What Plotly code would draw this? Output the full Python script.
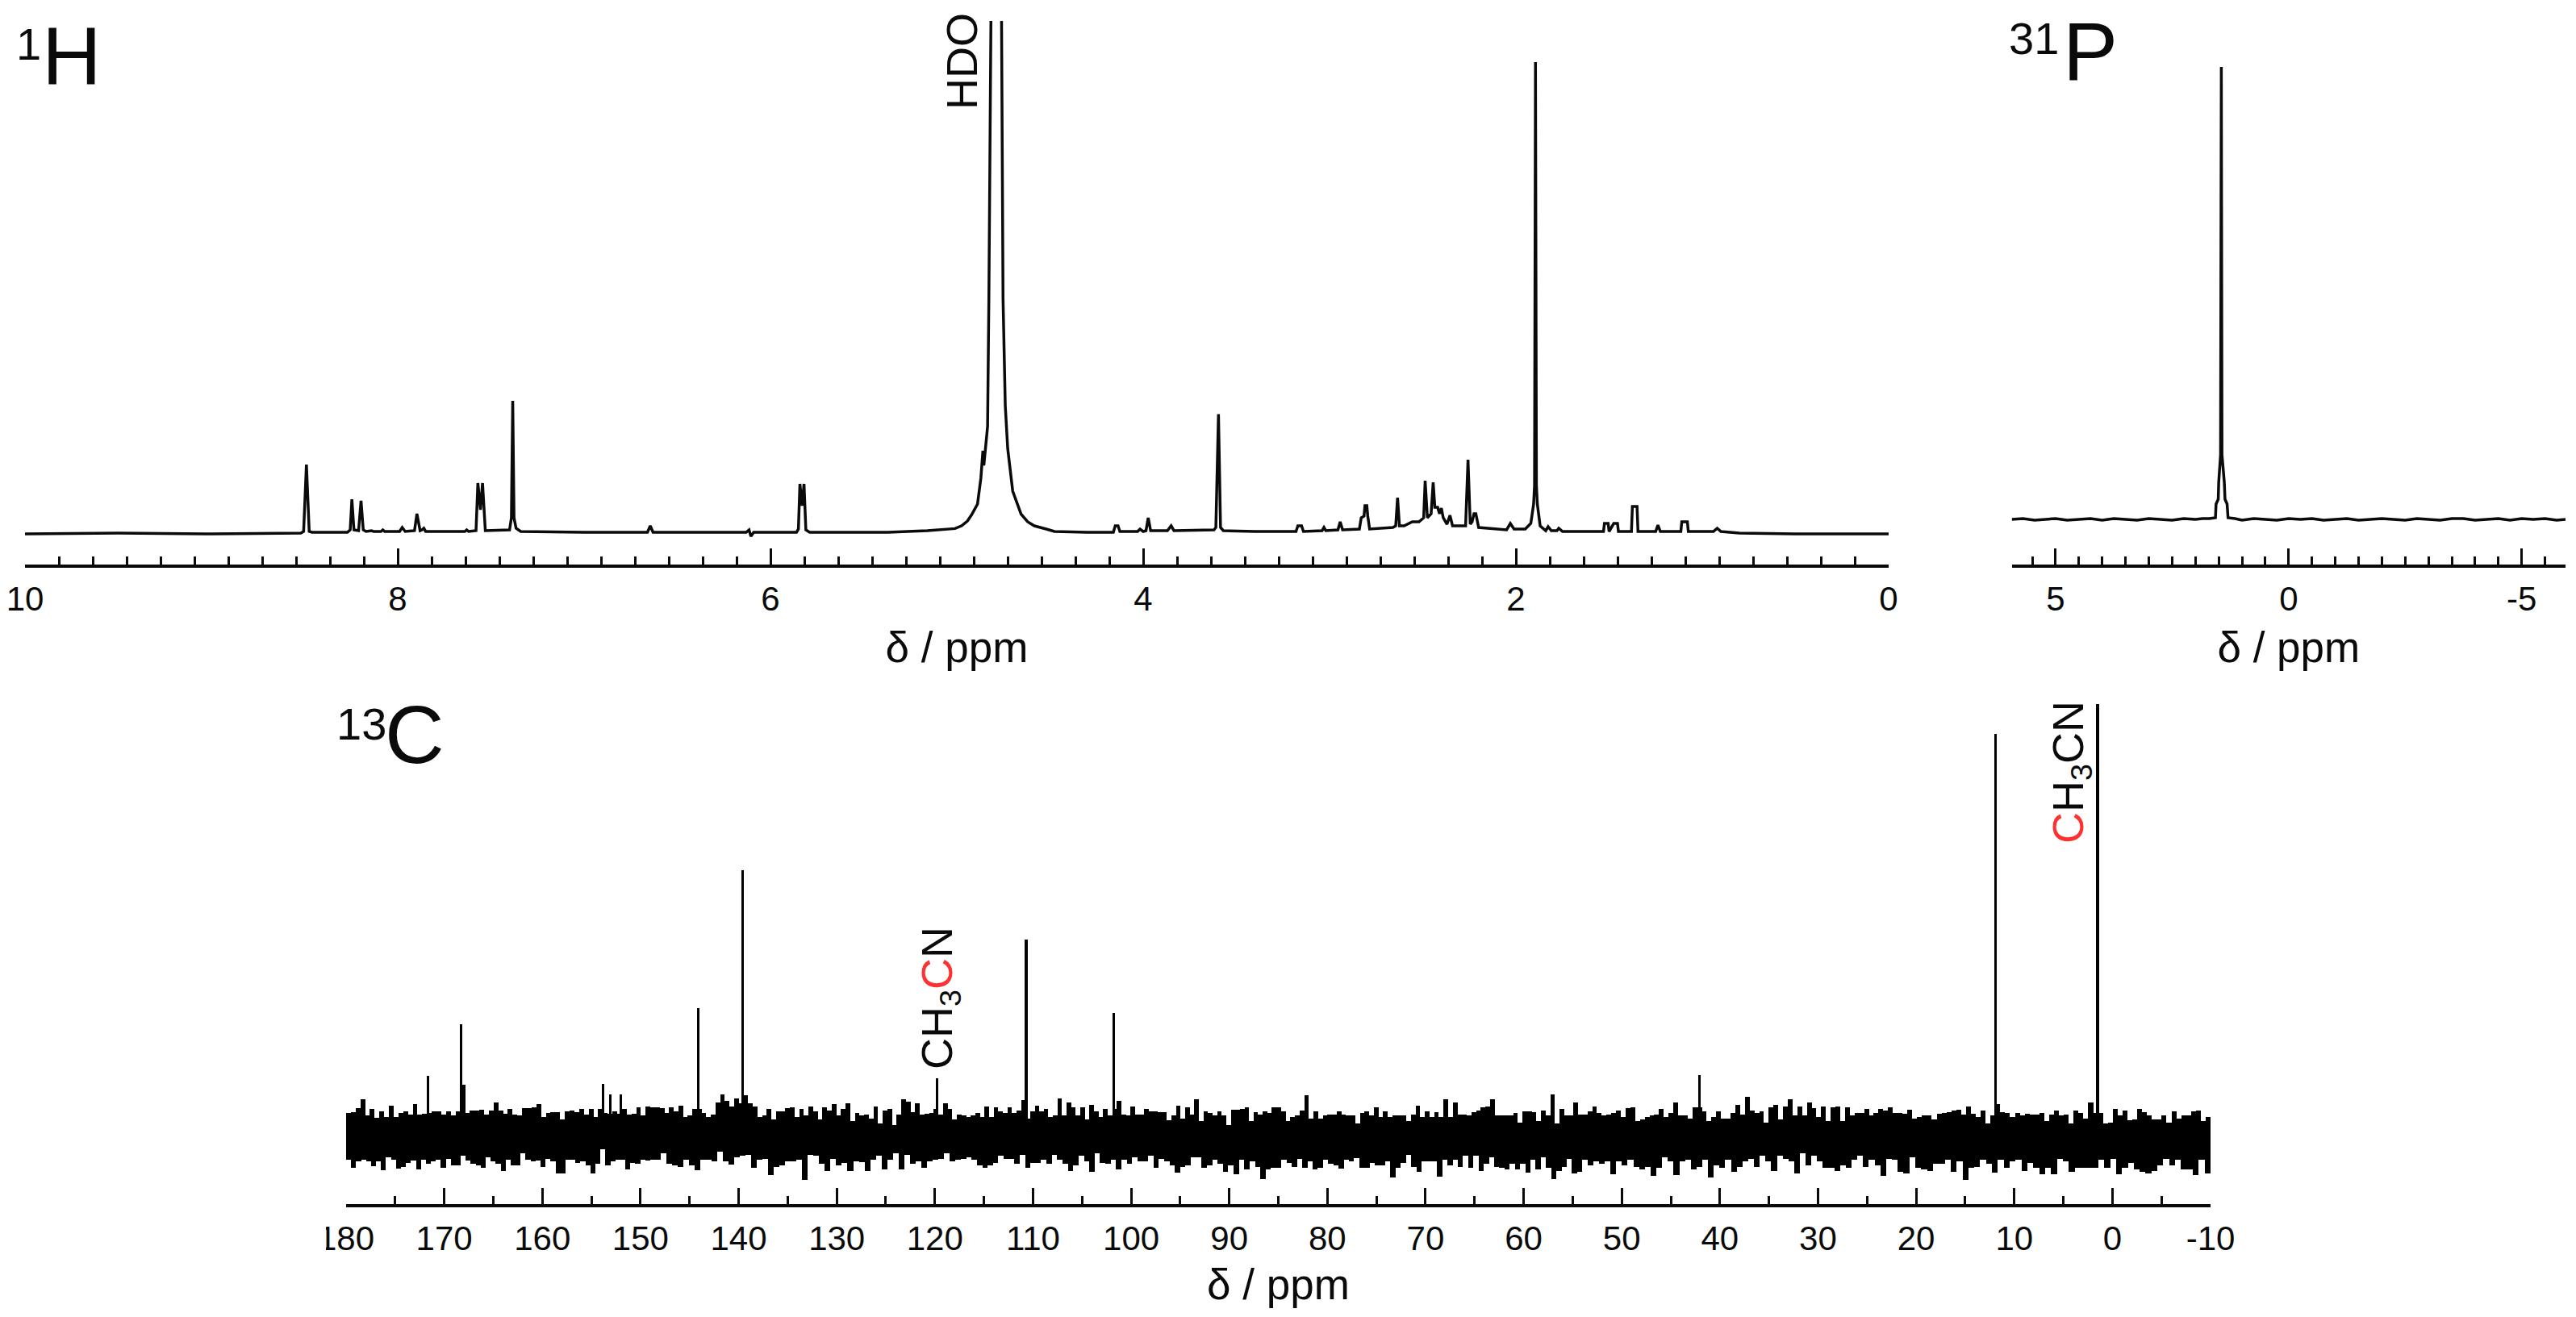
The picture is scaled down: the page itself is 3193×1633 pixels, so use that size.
import numpy as np
import plotly.graph_objects as go

# ---------- 1H spectrum (ppm, intensity) ----------
h1_ppm = [10,9.5,9,8.6,8.52,8.505,8.49,8.475,8.46,8.27,8.255,8.246,8.235,8.21,8.197,8.185,8.17,8.14,8.13,8.09,8.08,8.07,
          7.99,7.976,7.96,7.91,7.897,7.88,7.87,7.86,7.85,7.64,7.63,7.62,7.58,7.57,7.556,7.545,7.53,7.40,7.39,7.383,7.376,7.365,7.34,
          7.0,6.66,6.645,6.63,6.13,6.115,6.105,6.09,5.86,5.85,5.842,5.83,5.82,5.81,5.79,5.5,5.37,5.158,5.01,4.975,4.943,4.92,4.889,4.871,4.86,4.855,4.835,4.828,4.817,4.81,
          4.765,4.76,4.752,4.74,4.727,4.70,4.655,4.62,4.584,4.52,4.476,4.3,4.16,4.15,4.135,4.125,4.03,4.017,4.0,3.985,3.973,3.96,3.87,3.85,3.835,3.62,3.61,3.596,3.585,3.57,
          3.4,3.18,3.17,3.15,3.14,3.04,3.03,3.02,2.955,2.943,2.93,2.84,2.83,2.815,2.81,2.80,2.795,2.785,2.66,2.645,2.635,2.625,2.6,2.556,2.52,2.495,2.487,2.475,
          2.455,2.444,2.435,2.42,2.41,2.40,2.39,2.37,2.354,2.34,2.27,2.257,2.245,2.235,2.225,2.215,2.20,2.05,2.03,2.01,1.95,1.92,1.905,1.9,1.895,1.89,1.885,1.87,
          1.84,1.827,1.81,1.78,1.77,1.75,1.53,1.525,1.505,1.5,1.475,1.455,1.45,1.38,1.375,1.35,1.345,1.25,1.238,1.225,1.115,1.11,1.08,1.075,0.94,0.92,0.9,0.8,0.5,0]
h1_int = [0,1,0,1,1,3,86,3,2,2,5,43,5,4,41,5,3,4,3,3,5,3,
          3,8,3,4,25,4,5,7,3,3,5,3,4,63,30,63,4,5,20,165,20,7,3,
          2,2,10,2,2,5,-3,2,2,6,62,35,62,5,2,2,2,4,6.6,10,16,24,37,69,103,85,133,291,636,700,
          700,636,291,159,106,53,24.5,15,10,6,3,2,2,10,10,3,3,6,3,4,20,4,4,10,4,5,8,148.5,8,4,
          3,3,10,10,3,4,8,4,5,15,5,6,20,22,35,35,22,6,8,10,45,10,10,15,15,20,66,20,
          25,64,33,33,25,32,20,12,23,10,10,92,12,15,25,25,8,5,13,6,6,13,37,60,585,60,37,10,
          4,9,4,4,7,3,3,13,13,3,13,13,3,3,34,34,3,3,11,3,3,15,15,3,3,7,3,1,0,0]
h1_ticks = [10,8,6,4,2,0]
h1_labels = ["10","8","6","4","2","0"]

# ---------- 31P spectrum ----------
p31_ppm = [5.94,5.7,5.45,5.2,5,4.75,4.5,4.25,4,3.75,3.5,3.25,3,2.75,2.5,2.25,2,1.85,1.7,1.57,1.557,1.51,1.50,1.46,1.444,1.43,1.38,1.365,1.32,1.30,1.15,1.0,0.75,0.5,0.25,0,-0.25,-0.5,-0.75,-1,-1.25,-1.5,-1.75,-2,-2.25,-2.5,-2.75,-3,-3.25,-3.5,-3.75,-4,-4.25,-4.5,-4.75,-5,-5.25,-5.5,-5.75,-5.94]
p31_int = [0,1,-1,0,1,-1,0,1,-1,1,0,-1,1,0,-1,1,0,1,1,2,19,25,46,80,561,80,46,25,19,2,1,-1,1,0,-1,1,0,1,-1,0,1,-1,0,1,0,-1,1,0,-1,1,1,-1,0,1,-1,1,0,1,-1,0]
p31_ticks = [5,0,-5]
p31_labels = ["5","0","-5"]

# ---------- 13C: strongest lines ----------
c13_peak_ppm = [171.66,168.26,168.0,153.8,153.06,152.0,144.1,139.6,119.8,110.7,101.8,42.1,11.9,1.5]
c13_peak_int = [77,141,66,67,54,54,161,332,74,246,155,78,501,538]
c13_ticks = list(range(180,-11,-10))
c13_labels = [str(v) for v in c13_ticks]

# ---------- 13C: noise band envelope, read section by section ----------
c13_edges = [180,148.5,116.8,85.2,53.5,21.9,-10]
c13_upper = [
 [31,32,37,48,28,36,25,33,26,40,26,31,33,29,42,29,30,31,33,33,29,33,28,33,41,31,34,34,35,29,34,44,34,30,36,29,28,37,37,38,42,26,31,32,32,23,33,34,32,36,29,36,26,36,31,30,33,30,36,29,30,38,28,39,38],
 [38,37,31,38,33,40,26,28,36,36,31,26,29,44,54,46,39,49,43,53,43,39,26,28,36,23,33,33,37,38,26,36,28,39,33,23,38,34,42,28,36,43,21,31,28,29,24,39,18,34,36,16,29,48,45,32,43,29,30,31,36,29,43,36,23,29,28],
 [26,28,31,26,39,26,38,33,31,38,31,34,47,24,33,40,33,36,26,28,49,28,44,38,28,38,23,41,33,26,36,28,36,46,29,28,39,29,29,36,33,33,32,32,22,28,40,24,38,29,48,21,33,31,28,33,28,16,35,35,36,38,21,32,29,33,31,38],
 [38,33,21,26,28,34,53,24,33,24,28,29,29,33,29,28,28,18,31,33,28,38,26,33,26,28,28,28,21,29,40,26,33,26,32,26,48,26,44,29,29,28,32,34,38,39,48,28,28,28,28,31,19,33,33,32,21,34,28,54,18,36,28,28,44,29,29],
 [33,39,31,28,29,31,34,26,37,38,21,23,26,28,29,36,26,31,44,28,28,24,38,38,33,21,26,33,24,24,31,41,29,51,34,31,33,19,38,41,23,39,48,28,39,28,44,37,26,39,21,38,39,21,38,28,31,31,36,28,31,36,34,38,31],
 [31,30,35,24,26,28,28,23,30,31,32,34,35,29,39,30,26,34,18,28,42,32,31,26,31,28,30,29,29,31,21,29,34,28,29,18,34,31,24,44,31,31,18,19,36,28,34,22,23,36,32,28,23,23,28,19,33,24,28,28,33,34,21,26],
]
c13_lower = [
 [-27,-37,-29,-27,-29,-35,-29,-40,-24,-27,-38,-36,-31,-28,-39,-27,-32,-29,-27,-37,-26,-34,-34,-22,-28,-32,-34,-37,-24,-29,-32,-41,-27,-34,-34,-19,-27,-29,-28,-36,-26,-29,-44,-44,-27,-27,-31,-29,-34,-44,-32,-14,-34,-29,-27,-27,-39,-31,-32,-27,-28,-27],
 [-27,-19,-32,-34,-36,-27,-34,-40,-27,-27,-29,-17,-29,-33,-24,-22,-21,-37,-27,-26,-46,-36,-34,-29,-29,-27,-52,-21,-22,-32,-41,-26,-34,-31,-41,-29,-30,-41,-27,-22,-39,-27,-19,-39,-21,-32,-29,-37,-29,-27,-26,-19,-29,-27,-26],
 [-24,-27,-34,-37,-34,-31,-22,-26,-26,-32,-21,-37,-31,-31,-27,-32,-21,-27,-32,-41,-34,-22,-29,-42,-19,-31,-32,-27,-39,-27,-32,-24,-29,-29,-22,-37,-26,-29,-34,-43,-36,-34,-24,-24,-37,-34,-27,-32,-42,-34,-45,-27,-39,-29,-36,-51,-39,-37],
 [-37,-27,-31,-36,-26,-37,-29,-39,-37,-27,-32,-34,-38,-27,-29,-25,-37,-37,-31,-34,-34,-29,-49,-37,-31,-21,-36,-42,-29,-29,-29,-48,-27,-34,-27,-36,-22,-37,-22,-41,-32,-24,-36,-37,-39,-32,-39,-32,-43,-27,-39,-24,-37,-51,-41,-36,-26,-44,-42,-27],
 [-34,-29,-32,-29,-45,-29,-34,-27,-36,-39,-36,-47,-37,-24,-29,-46,-29,-27,-39,-36,-27,-49,-34,-37,-27,-42,-36,-29,-26,-36,-22,-29,-41,-22,-26,-29,-44,-19,-34,-22,-29,-37,-37,-41,-34,-37,-27,-22,-36,-27,-34,-47,-26,-27],
 [-42,-44,-24,-37,-39,-41,-32,-32,-27,-42,-29,-52,-37,-36,-27,-32,-43,-27,-37,-29,-27,-41,-31,-37,-45,-37,-45,-26,-29,-42,-37,-37,-37,-37,-27,-37,-26,-45,-37,-31,-39,-42,-44,-41,-34,-26,-34,-27,-39,-39,-46,-27,-44],
]

W, H = 3193, 1633
INK = "#0a0a0a"
FONT = "Liberation Sans"


def fx(px):
    return px / W


def fy(py):
    return 1 - py / H


def section_bars(sections):
    xs, ws, ys = [], [], []
    for i, vals in enumerate(sections):
        step = (c13_edges[i] - c13_edges[i + 1]) / len(vals)
        for k, v in enumerate(vals):
            xs.append(c13_edges[i] - (k + 0.5) * step)
            ws.append(step)
            ys.append(v)
    return xs, ws, ys


fig = go.Figure()
fig.add_trace(go.Scatter(x=h1_ppm, y=h1_int, mode="lines", line=dict(color=INK, width=3.5), xaxis="x", yaxis="y", hoverinfo="skip"))
fig.add_trace(go.Scatter(x=p31_ppm, y=p31_int, mode="lines", line=dict(color=INK, width=3.5), xaxis="x2", yaxis="y2", hoverinfo="skip"))
for sections in (c13_upper, c13_lower):
    xs, ws, ys = section_bars(sections)
    fig.add_trace(go.Bar(x=xs, y=ys, width=ws, marker=dict(color="#000000", line=dict(width=0)), xaxis="x3", yaxis="y3", hoverinfo="skip"))
fig.add_trace(go.Bar(x=c13_peak_ppm, y=c13_peak_int, width=0.27, marker=dict(color="#000000", line=dict(width=0)), xaxis="x3", yaxis="y3", hoverinfo="skip"))


def x_axis(dom, rng, ticks, labels, minor, anchor, standoff):
    return dict(
        domain=[fx(dom[0]), fx(dom[1])], range=rng, anchor=anchor, showgrid=False, zeroline=False,
        showline=True, linecolor=INK, linewidth=4, ticks="inside", ticklen=20, tickwidth=3, tickcolor=INK,
        tickmode="array", tickvals=ticks, ticktext=labels,
        tickfont=dict(family=FONT, size=42, color=INK), ticklabelstandoff=3,
        minor=dict(ticks="inside", ticklen=10, tickwidth=3, tickcolor=INK, tick0=0, dtick=minor, showgrid=False),
        title=dict(text="δ / ppm", font=dict(family=FONT, size=53, color=INK), standoff=standoff),
    )


def y_axis(top, bottom, rng, anchor):
    return dict(domain=[fy(bottom), fy(top)], range=rng, anchor=anchor, visible=False, fixedrange=True)


fig.update_layout(
    width=W, height=H, autosize=False, margin=dict(l=0, r=0, t=0, b=0, autoexpand=False),
    paper_bgcolor="white", plot_bgcolor="white", showlegend=False,
    barmode="overlay", bargap=0,
    xaxis=x_axis((31, 2341), [10, 0], h1_ticks, h1_labels, 2 / 11, "y", 19),
    yaxis=y_axis(26, 700, [-38, 636], "x"),
    xaxis2=x_axis((2493.6, 3180), [5.94, -5.94], p31_ticks, p31_labels, 0.5, "y2", 19),
    xaxis3=x_axis((429, 2740), [180, -10], c13_ticks, c13_labels, 5, "y3", 16),
    yaxis2=y_axis(26, 700, [-56, 618], "x2"),
    yaxis3=y_axis(870, 1493, [-82, 541], "x3"),
)

RED = "#ff3030"


def note(text, px, py, size, angle=0):
    fig.add_annotation(xref="paper", yref="paper", x=fx(px), y=fy(py), text=text, showarrow=False, textangle=angle,
                       xanchor="center", yanchor="middle", font=dict(family=FONT, size=size, color=INK))


note("1", 35, 55, 56)
note("H", 89, 70, 102)
note("31", 2521, 48, 56)
note("P", 2591, 64, 102)
note("13", 448, 898, 56)
note("C", 514, 911, 102)
note("HDO", 1192, 76, 54, -90)
note(f'CH<sub>3</sub><span style="color:{RED}">C</span>N', 1165, 1238, 54, -90)
note(f'<span style="color:{RED}">C</span>H<sub>3</sub>CN', 2567, 958, 54, -90)

fig.add_shape(type="rect", xref="paper", yref="paper", x0=fx(390), x1=fx(404), y0=fy(1560), y1=fy(1510),
              fillcolor="white", line=dict(width=0), layer="above")

fig.write_html("out.html", config={"displayModeBar": False}, post_script="document.body.style.margin='0';")
